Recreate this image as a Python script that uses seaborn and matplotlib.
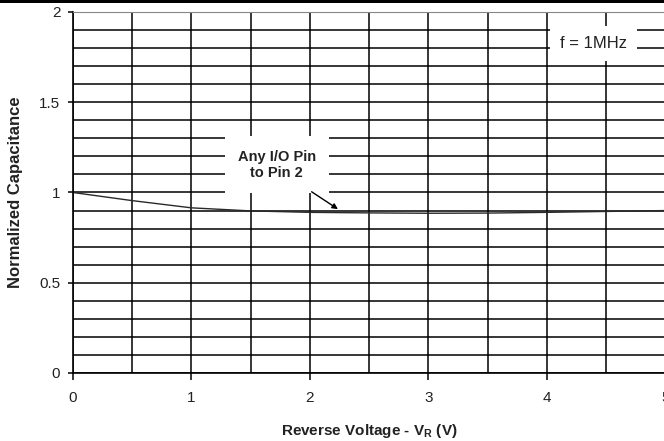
import pandas as pd
import matplotlib
matplotlib.use('Agg')
import matplotlib.pyplot as plt
from matplotlib.patches import Rectangle
import seaborn as sns

# Normalized capacitance vs reverse voltage
reverse_voltage = [0, 0.5, 1, 1.5, 2, 2.5, 3, 3.5, 4, 4.5, 5]
norm_capacitance = [1.0, 0.955, 0.915, 0.898, 0.89, 0.887, 0.885, 0.886, 0.89, 0.895, 0.9]
x_ticks = [0, 1, 2, 3, 4, 5]
y_ticks = [0, 0.5, 1, 1.5, 2]
y_tick_labels = ['0', '0.5', '1', '1.5', '2']

sns.set_style('white')
plt.rcParams['font.family'] = ['Liberation Sans', 'DejaVu Sans']
plt.rcParams['mathtext.fontset'] = 'custom'
plt.rcParams['mathtext.rm'] = 'Liberation Sans'
plt.rcParams['mathtext.bf'] = 'Liberation Sans:bold'

data = pd.DataFrame({'VR': reverse_voltage, 'C': norm_capacitance})

fig = plt.figure(figsize=(6.64, 4.41), dpi=100)
ax = fig.add_axes([0.1099, 0.1542, 0.8923, 0.8186])

# black strip along the top edge
fig.add_artist(Rectangle((0, 1 - 3 / 441), 1, 3 / 441, transform=fig.transFigure,
                         facecolor='black', edgecolor='none'))

sns.lineplot(data=data, x='VR', y='C', color='#2a2a2a', linewidth=1.0, ax=ax)

ax.set_xlim(0, 5)
ax.set_ylim(0, 2)
ax.set_xticks(x_ticks)
ax.set_xticks([0.5, 1.5, 2.5, 3.5, 4.5], minor=True)
ax.set_yticks(y_ticks)
ax.set_yticklabels(y_tick_labels)
ax.set_yticks([v / 10 for v in range(21) if v % 5 != 0], minor=True)
ax.set_axisbelow(True)
ax.grid(True, which='both', color='black', linewidth=1.1)

ax.tick_params(axis='x', which='major', length=5, width=1.1, color='black',
               direction='out', pad=8, labelsize=11, labelcolor='#222222', bottom=True)
ax.tick_params(axis='y', which='major', length=3.6, width=1.1, color='black',
               direction='out', pad=5.5, labelsize=11, labelcolor='#222222', left=True)
ax.tick_params(which='minor', length=0)

for side in ['left', 'bottom']:
    ax.spines[side].set_color('black')
    ax.spines[side].set_linewidth(1.2)
ax.spines['top'].set_color('#888888')
ax.spines['top'].set_linewidth(0.8)
ax.spines['right'].set_visible(False)

ax.set_xlabel('Reverse Voltage - V$_\\mathbf{R}$ (V)', fontsize=11, fontweight='bold', color='#222222')
ax.set_ylabel('Normalized Capacitance', fontsize=12, fontweight='bold', color='#222222')
ax.xaxis.set_label_coords(0.5, -0.136)
ax.yaxis.set_label_coords(-0.0844, 0.5)

ax.text(1.72, 1.154, 'Any I/O Pin\nto Pin 2', ha='center', va='center', fontsize=10.5,
        fontweight='bold', color='#222222', linespacing=1.2,
        bbox=dict(boxstyle='square,pad=0.9', facecolor='white', edgecolor='none'))
ax.annotate('', xy=(2.236, 0.908), xytext=(2.014, 1.004),
            arrowprops=dict(arrowstyle='-|>', color='black', lw=1.0, mutation_scale=8,
                            shrinkA=0, shrinkB=0))
ax.text(4.39, 1.825, 'f = 1MHz', ha='center', va='center', fontsize=12, color='#222222',
        bbox=dict(boxstyle='square,pad=0.6', facecolor='white', edgecolor='none'))

fig.savefig('out.png', dpi=100)
